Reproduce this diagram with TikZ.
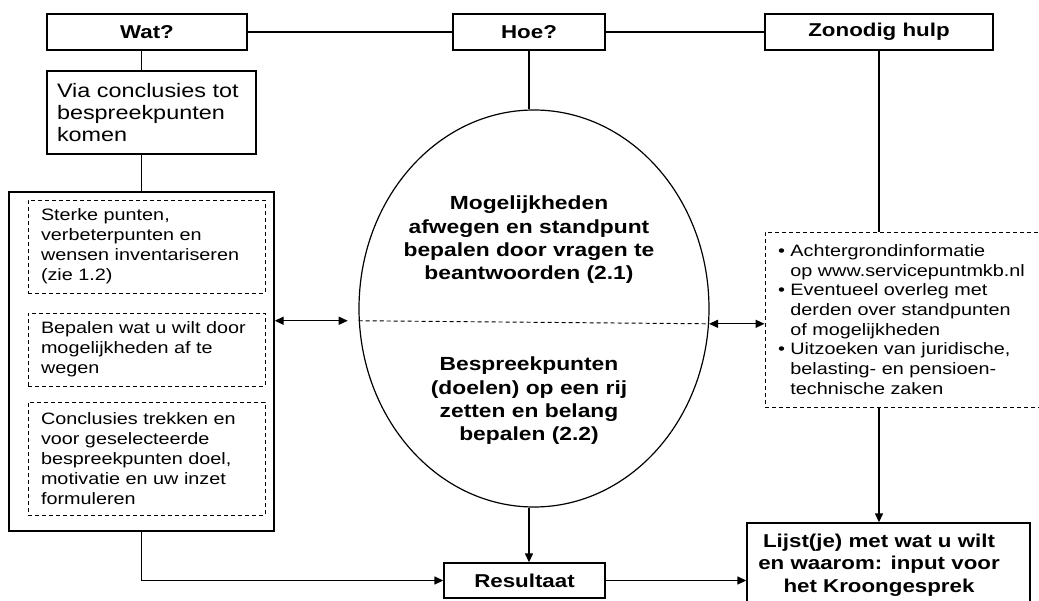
\documentclass[tikz,border=0pt]{standalone}
\usepackage{fontspec}
\setmainfont{Liberation Sans}[FakeStretch=1.2]
\usetikzlibrary{arrows.meta,shapes.geometric,calc}
\begin{document}
\begin{tikzpicture}[x=1pt,y=-1pt,line width=1.35pt,
  hdr/.style={draw,rectangle,inner sep=0pt,font=\fontsize{18.6}{22}\selectfont\bfseries},
  plainbox/.style={draw,rectangle,inner ysep=0pt,align=left},
  dbox/.style={draw,rectangle,line width=0.95pt,dash pattern=on 4pt off 3pt,inner ysep=0pt,align=left,font=\fontsize{16.5}{20}\selectfont},
  bigtxt/.style={inner sep=0pt,align=center,font=\fontsize{19}{23.3}\selectfont\bfseries},
  arr/.style={-{Triangle[length=9pt,width=8pt]}},
  darr/.style={{Triangle[length=9pt,width=8pt]}-{Triangle[length=9pt,width=8pt]}}
]
\clip (0,0) rectangle (1039,601);
\fill[white] (0,0) rectangle (1039,601);

% headers
\node[hdr,minimum width=200pt,minimum height=36pt] (wat) at (147,32) {Wat?};
\node[hdr,minimum width=152pt,minimum height=36pt] (hoe) at (529,32) {Hoe?};
\node[hdr,minimum width=228pt,minimum height=36pt] (zon) at (879,32) {Zonodig hulp};

% left column
\node[plainbox,inner xsep=10pt,text width=189pt,minimum height=83pt,
      font=\fontsize{19.5}{21.7}\selectfont] (via) at (151.5,112.5)
  {Via conclusies tot\\bespreekpunten\\komen};
\node[draw,rectangle,minimum width=265pt,minimum height=339pt,inner sep=0pt] (outer) at (141.5,361.5) {};
\node[dbox,inner xsep=13pt,text width=211pt,minimum height=93pt] (d1) at (146.5,246.5)
  {Sterke punten,\\verbeterpunten en\\wensen inventariseren\\(zie 1.2)};
\node[dbox,inner xsep=13pt,text width=211pt,minimum height=73pt] (d2) at (146.5,349.5)
  {Bepalen wat u wilt door\\mogelijkheden af te\\wegen};
\node[dbox,inner xsep=13pt,text width=211pt,minimum height=113pt] (d3) at (146.5,458.5)
  {Conclusies trekken en\\voor geselecteerde\\bespreekpunten doel,\\motivatie en uw inzet\\formuleren};

% middle
\node[ellipse,draw,line width=1.2pt,minimum width=350pt,minimum height=397pt,inner sep=0pt] (ell) at (534,308.5) {};
\node[bigtxt] (t1) at (529,240) {Mogelijkheden\\afwegen en standpunt\\bepalen door vragen te\\beantwoorden (2.1)};
\node[bigtxt] (t2) at (529,401) {Bespreekpunten\\(doelen) op een rij\\zetten en belang\\bepalen (2.2)};
\draw[line width=0.95pt,dash pattern=on 4pt off 3pt] (ell.184.1) -- (ell.355.9);

\node[hdr,minimum width=161pt,minimum height=35pt] (res) at (524.5,580.5) {Resultaat};

% right column
\node[dbox,inner xsep=13pt,text width=254pt,minimum height=175pt,
      font=\fontsize{16.5}{19.7}\selectfont] (rdash) at (905,319.5)
  {\textbullet\ Achtergrondinformatie\\
   \phantom{\textbullet\ }op www.servicepuntmkb.nl\\
   \textbullet\ Eventueel overleg met\\
   \phantom{\textbullet\ }derden over standpunten\\
   \phantom{\textbullet\ }of mogelijkheden\\
   \textbullet\ Uitzoeken van juridische,\\
   \phantom{\textbullet\ }belasting- en pensioen-\\
   \phantom{\textbullet\ }technische zaken};
\node[draw,rectangle,minimum width=283pt,minimum height=87pt,inner sep=0pt] (lijst) at (888.5,566.5) {};
\node[bigtxt,font=\fontsize{18.6}{22.5}\selectfont\bfseries] (lijsttxt) at (879,565)
  {Lijst(je) met wat u wilt\\en waarom: input voor\\het Kroongesprek};

% connectors
\draw (wat.east) -- (hoe.west);
\draw (hoe.east) -- (zon.west);
\draw (wat.south -| outer.north) -- (via.north -| outer.north);
\draw (via.south -| outer.north) -- (outer.north);
\draw (hoe.south) -- (hoe.south |- ell.north);
\draw[arr] (hoe.south |- ell.south) -- (hoe.south |- res.north);
\draw[arr] (outer.south) |- (res.west);
\draw[arr] (res.east) -- (res.east -| lijst.west);
\draw (zon.south) -- (zon.south |- rdash.north);
\draw[arr] (zon.south |- rdash.south) -- (zon.south |- lijst.north);
\draw[darr] (outer.east |- ell.184.1) -- ($(ell.184.1)+(-11,0)$);
\draw[darr] (ell.355.9) -- (rdash.west |- ell.355.9);
\end{tikzpicture}
\end{document}
